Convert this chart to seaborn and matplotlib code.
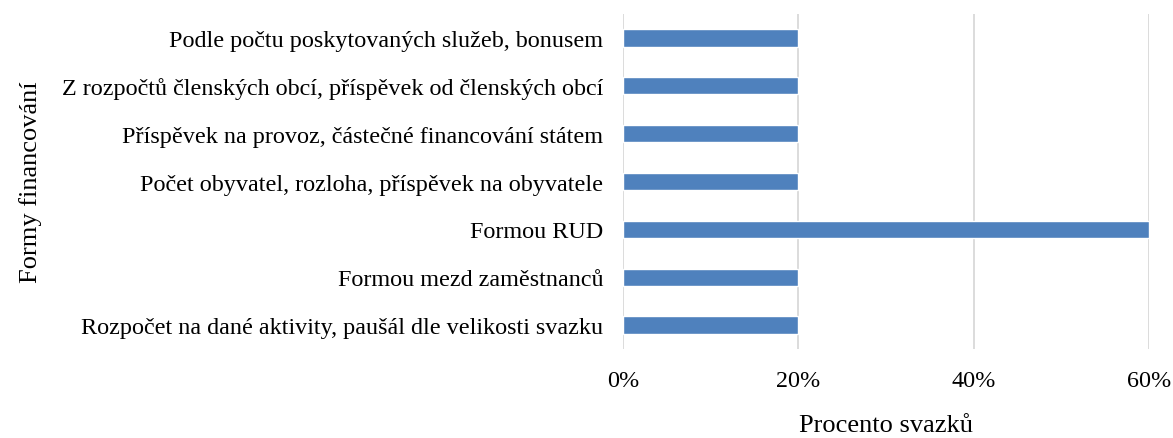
import matplotlib
matplotlib.use("Agg")
import matplotlib.pyplot as plt
import seaborn as sns
import pandas as pd
from matplotlib.ticker import PercentFormatter

categories = [
    "Podle počtu poskytovaných služeb, bonusem",
    "Z rozpočtů členských obcí, příspěvek od členských obcí",
    "Příspěvek na provoz, částečné financování státem",
    "Počet obyvatel, rozloha, příspěvek na obyvatele",
    "Formou RUD",
    "Formou mezd zaměstnanců",
    "Rozpočet na dané aktivity, paušál dle velikosti svazku",
]
values = [20, 20, 20, 20, 60, 20, 20]
x_ticks = [0, 20, 40, 60]

sns.set_theme(style="white")
plt.rcParams["font.family"] = ["Liberation Serif", "DejaVu Serif"]
plt.rcParams["text.color"] = "black"
plt.rcParams["axes.labelcolor"] = "black"

df = pd.DataFrame({"kategorie": categories, "hodnota": values})

fig = plt.figure(figsize=(11.73, 4.39), dpi=100)
ax = fig.add_axes([0.531, 0.2027, 0.4485, 0.7631])

sns.barplot(data=df, x="hodnota", y="kategorie", color="#4f81bd",
            width=0.36, ax=ax, saturation=1, order=categories)

ax.set_xlim(0, 60)
ax.set_ylim(6.5, -0.5)
ax.set_xticks(x_ticks)
ax.xaxis.set_major_formatter(PercentFormatter(decimals=0))
ax.grid(axis="x", color="#d9d9d9", linewidth=1.3)
ax.set_axisbelow(True)
for s in ax.spines.values():
    s.set_visible(False)
ax.tick_params(axis="both", length=0, labelsize=17.4, colors="black")
ax.tick_params(axis="y", pad=14)
ax.tick_params(axis="x", pad=15)
ax.set_xlabel("Procento svazků", fontsize=19, labelpad=17, color="black")
ax.set_ylabel("Formy financování", fontsize=19, color="black")
ax.yaxis.set_label_coords(-1.105, 0.5)

fig.savefig("out.png", dpi=100)
